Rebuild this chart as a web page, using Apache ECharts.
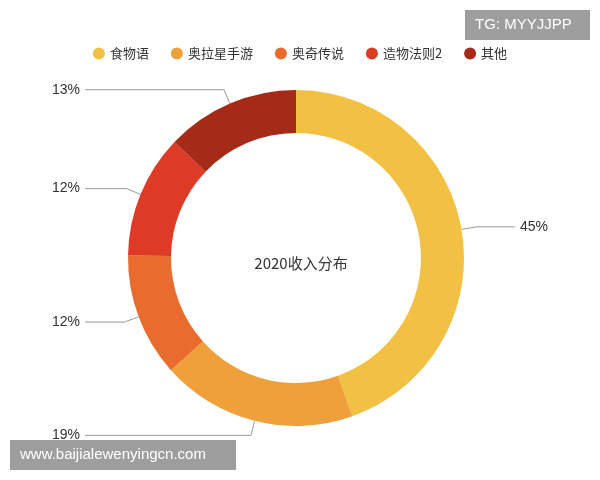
<!DOCTYPE html><html><head><meta charset="utf-8"><script src="https://cdn.jsdelivr.net/npm/echarts@6/dist/echarts.min.js"></script></head><body style="margin:0"><div id="c" style="width:600px;height:480px"></div><script>
const categories=['食物语','奥拉星手游','奥奇传说','造物法则2','其他'];
const values=[45,19,12,12,13];
const colors=['#F2C043','#EFA03A','#EA6B2E','#DE3B27','#A52A17'];
const c=echarts.init(document.getElementById('c'));
c.setOption({
 color:colors,
 legend:{top:42,left:'center',icon:'circle',itemWidth:12,itemHeight:12,itemGap:22,textStyle:{fontSize:13,color:'#333',fontFamily:'Noto Sans CJK SC'}},
 title:{text:'2020收入分布',left:296,top:258,textAlign:'center',textVerticalAlign:'middle',textStyle:{fontSize:15,fontWeight:'normal',color:'#333',fontFamily:'Noto Sans CJK SC'}},
 graphic:[
  {type:'rect',shape:{x:465,y:10,width:125,height:30},style:{fill:'#9e9e9e'}},
  {type:'text',left:475,top:17,style:{text:'TG: MYYJJPP',fill:'#fff',fontSize:15}},
  {type:'rect',shape:{x:10,y:440,width:226,height:30},style:{fill:'#9e9e9e'}},
  {type:'text',left:20,top:447,style:{text:'www.baijialewenyingcn.com',fill:'#fff',fontSize:15}}
 ],
 series:[{type:'pie',center:[296,258],radius:[125,168],startAngle:90,clockwise:true,
  data:categories.map((n,i)=>({name:n,value:values[i]})),
  label:{formatter:'{c}%',fontSize:14,color:'#333',alignTo:'edge',edgeDistance:52},
  labelLine:{length:15,length2:20,lineStyle:{color:'#999'}},
  itemStyle:{borderWidth:0}
 }]
});
</script></body></html>
